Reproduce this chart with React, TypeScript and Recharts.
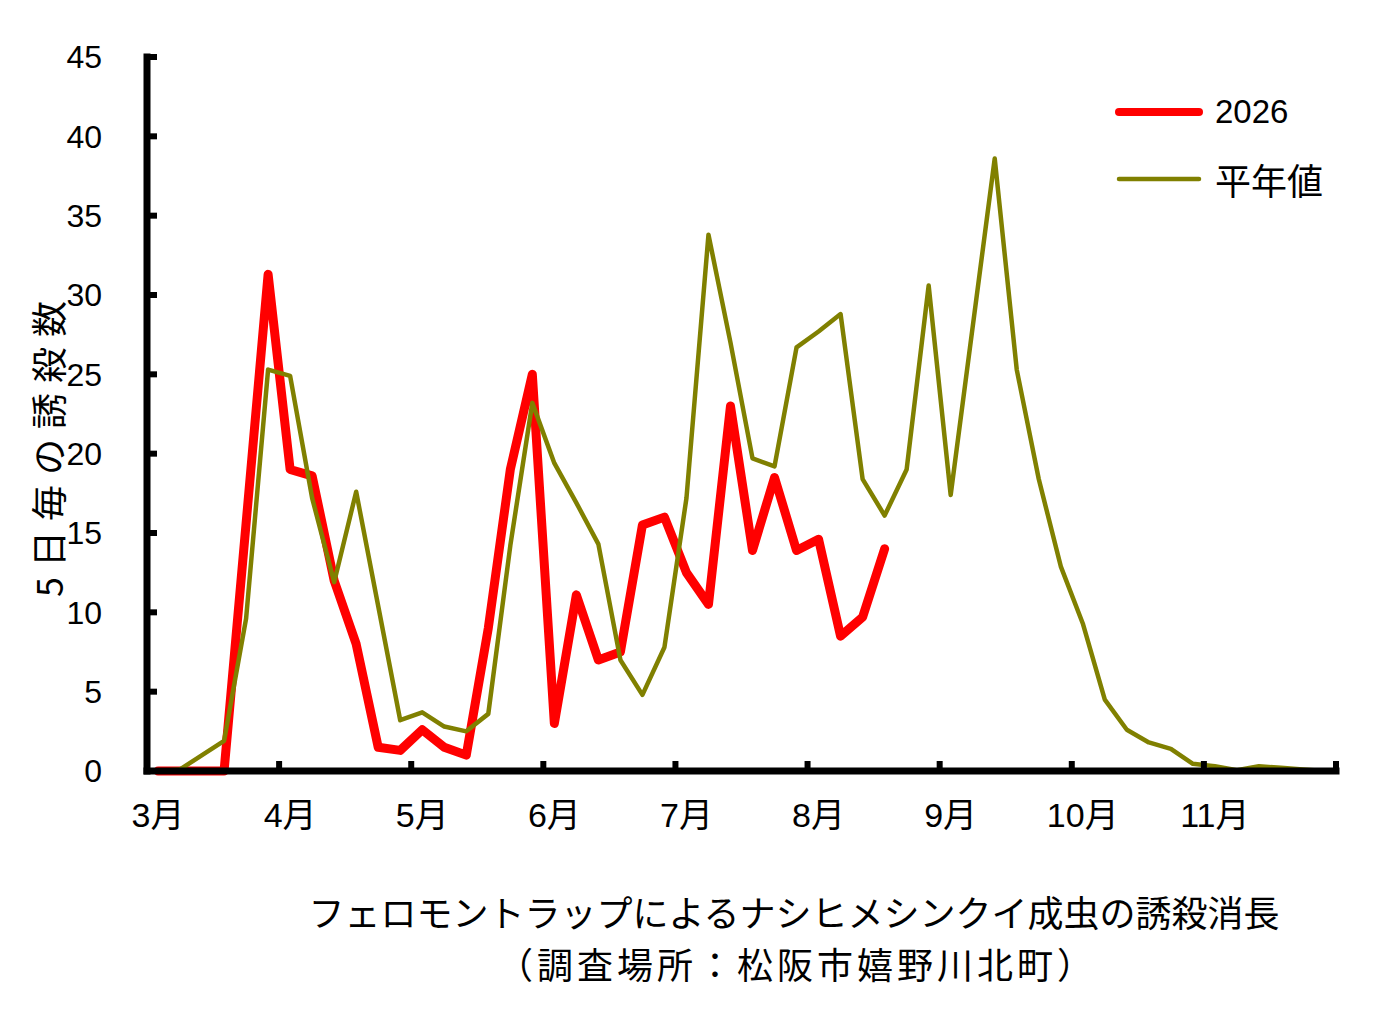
import React from 'react';
import { LineChart, Line, XAxis, YAxis, Legend } from 'recharts';

const FONT = '"Liberation Sans", Arial, "Noto Sans CJK JP", sans-serif';
const JFONT = '"Noto Sans CJK JP", "Liberation Sans", sans-serif';

// month labels placed at first pentad of each month
const monthLabels = ['3月', '4月', '5月', '6月', '7月', '8月', '9月', '10月', '11月'];
const monthLabelTicks = [0, 6, 12, 18, 24, 30, 36, 42, 48];
const monthBoundaryTicks = [-0.5, 5.5, 11.5, 17.5, 23.5, 29.5, 35.5, 41.5, 47.5, 53.5];
const yTicks = [0, 5, 10, 15, 20, 25, 30, 35, 40, 45];

// 5-day (pentad) trap catches, March 1st pentad onward
const catches2026 = [
  0, 0, 0, 0, 15.6, 31.3, 19.0, 18.6, 12.0, 8.0,
  1.5, 1.3, 2.6, 1.5, 1.0, 9.0, 19.0, 25.0, 3.0, 11.1,
  7.0, 7.5, 15.5, 16.0, 12.5, 10.5, 23.0, 13.9, 18.5, 13.9,
  14.6, 8.5, 9.7, 14.0,
];
const catchesNormal = [
  0, 0.1, 1.0, 1.9, 9.6, 25.3, 24.9, 17.2, 11.9, 17.6,
  10.4, 3.2, 3.7, 2.8, 2.5, 3.6, 14.2, 23.2, 19.4, 16.9,
  14.3, 7.0, 4.8, 7.8, 17.2, 33.8, 27.0, 19.7, 19.2, 26.7,
  27.7, 28.8, 18.4, 16.1, 19.0, 30.6, 17.4, 28.0, 38.6, 25.3,
  18.4, 12.9, 9.3, 4.5, 2.6, 1.8, 1.4, 0.45, 0.3, 0.05,
  0.3, 0.2, 0.1, 0.0,
];

const data = catchesNormal.map((v, i) => ({
  idx: i,
  y2026: i < catches2026.length ? catches2026[i] : null,
  normal: v,
}));

const legendWidths: Record<string, number> = { '2026': 8, '平年値': 4.5 };
const legendFont: Record<string, any> = {
  '2026': { fontFamily: FONT, fontSize: 33 },
  '平年値': { fontFamily: JFONT, fontSize: 36 },
};

const renderLegend = (props: any) => {
  const { payload } = props;
  return (
    <div>
      {(payload || []).map((entry: any) => (
        <div
          key={entry.value}
          style={{ display: 'flex', alignItems: 'center', height: 67 }}
        >
          <svg width={100} height={20}>
            <line
              x1={9}
              x2={89}
              y1={10}
              y2={10}
              stroke={entry.color}
              strokeWidth={legendWidths[entry.value] || 4}
              strokeLinecap="round"
            />
          </svg>
          <span
            style={{
              marginLeft: 5,
              color: '#000',
              lineHeight: 1,
              whiteSpace: 'nowrap',
              ...(legendFont[entry.value] || {}),
            }}
          >
            {entry.value}
          </span>
        </div>
      ))}
    </div>
  );
};

const EmptyTick = () => <g />;

export default function App() {
  return (
    <div
      style={{
        position: 'absolute',
        left: 0,
        top: 0,
        width: 1392,
        height: 1028,
        background: '#fff',
      }}
    >
      <LineChart
        width={1392}
        height={1028}
        data={data}
        margin={{ top: 57, right: 56, left: 0, bottom: 255 }}
      >
        <XAxis
          xAxisId="bounds"
          type="number"
          dataKey="idx"
          domain={[-0.5, 53.5]}
          ticks={monthBoundaryTicks}
          interval={0}
          height={1}
          tick={EmptyTick}
          tickFormatter={() => ''}
          tickSize={-10}
          axisLine={{ stroke: '#000', strokeWidth: 7, strokeLinecap: 'square' }}
          tickLine={{ stroke: '#000', strokeWidth: 6 }}
        />
        <XAxis
          xAxisId="months"
          type="number"
          dataKey="idx"
          domain={[-0.5, 53.5]}
          ticks={monthLabelTicks}
          interval={0}
          height={1}
          axisLine={false}
          tickLine={false}
          tickSize={6}
          tickMargin={25}
          tickFormatter={(v: number) => monthLabels[monthLabelTicks.indexOf(v)] ?? ''}
          tick={{ fill: '#000', fontSize: 34, fontFamily: FONT }}
        />
        <YAxis
          type="number"
          domain={[0, 45]}
          ticks={yTicks}
          interval={0}
          width={147}
          tickSize={-10}
          tickMargin={55}
          axisLine={{ stroke: '#000', strokeWidth: 7, strokeLinecap: 'square' }}
          tickLine={{ stroke: '#000', strokeWidth: 6 }}
          tick={{ fill: '#000', fontSize: 32, fontFamily: FONT }}
        />
        <Legend
          layout="vertical"
          align="center"
          verticalAlign="middle"
          content={renderLegend}
          wrapperStyle={{ left: 1110, top: 78, width: 260, height: 134 }}
        />
        <Line
          xAxisId="months"
          type="linear"
          dataKey="y2026"
          name="2026"
          stroke="#FF0000"
          strokeWidth={9}
          strokeLinejoin="round"
          strokeLinecap="round"
          dot={false}
          activeDot={false}
          isAnimationActive={false}
        />
        <Line
          xAxisId="months"
          type="linear"
          dataKey="normal"
          name="平年値"
          stroke="#808000"
          strokeWidth={4.5}
          strokeLinejoin="round"
          strokeLinecap="round"
          dot={false}
          activeDot={false}
          isAnimationActive={false}
        />
      </LineChart>
      <div
        style={{
          position: 'absolute',
          left: 47,
          top: 444,
          transform: 'translate(-50%, -50%) rotate(-90deg)',
          whiteSpace: 'nowrap',
          fontFamily: JFONT,
          fontSize: 36,
          letterSpacing: 10,
          lineHeight: 1,
          color: '#000',
        }}
      >
        5日毎の誘殺数
      </div>
      <div
        style={{
          position: 'absolute',
          left: 794,
          top: 911,
          transform: 'translate(-50%, -50%)',
          whiteSpace: 'nowrap',
          fontFamily: JFONT,
          fontSize: 36,
          lineHeight: 1,
          color: '#000',
        }}
      >
        フェロモントラップによるナシヒメシンクイ成虫の誘殺消長
      </div>
      <div
        style={{
          position: 'absolute',
          left: 797,
          top: 963,
          transform: 'translate(-50%, -50%)',
          whiteSpace: 'nowrap',
          fontFamily: JFONT,
          fontSize: 36,
          letterSpacing: 4,
          lineHeight: 1,
          color: '#000',
        }}
      >
        （調査場所：松阪市嬉野川北町）
      </div>
    </div>
  );
}
